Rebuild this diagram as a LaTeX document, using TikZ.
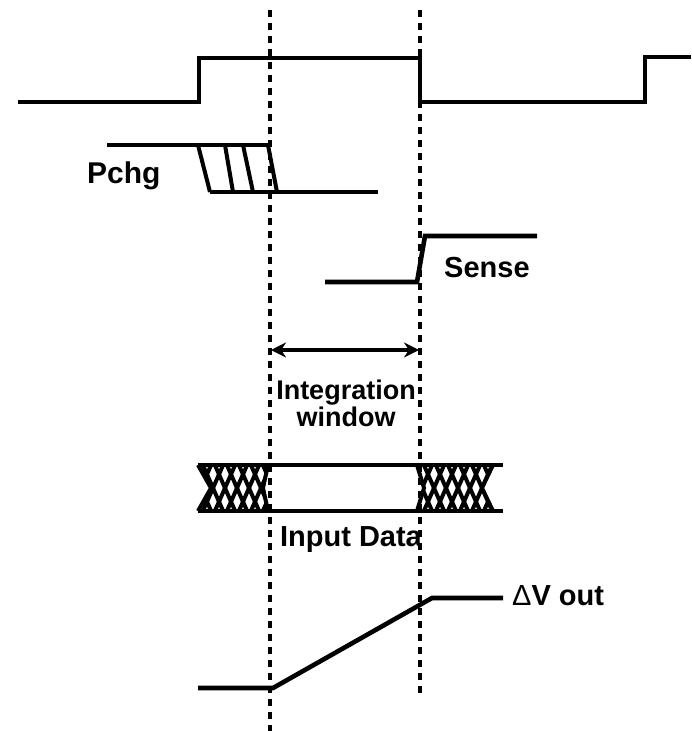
\documentclass[tikz,border=0pt]{standalone}
\usepackage{fontspec}
\setmainfont{Liberation Sans}
\usetikzlibrary{arrows.meta}
\begin{document}
\begin{tikzpicture}[x=1pt,y=-1pt,
  wave/.style={line width=4.6pt,line join=miter},
  guide/.style={line width=3.4pt,dash pattern=on 7pt off 6pt},
  lbl/.style={font=\fontsize{29}{29}\selectfont\bfseries,inner sep=0pt},
  hatch/.style={line width=4pt}]
\useasboundingbox (0,0) rectangle (691,731);
% guides
\draw[guide] (270,10) coordinate (g1a) -- (270,731) coordinate (g1b);
\draw[guide] (420,10) coordinate (g2a) -- (420,695) coordinate (g2b);
% clock
\draw[wave] (18,102) -- (199,102) -- (199,58) -- (420,58) -- (420,102) -- (645,102) -- (645,57) -- (691,57);
% Pchg
\draw[wave] (107,145) -- (270,145);
\draw[wave] (210,192) -- (378,192);
\foreach \a/\b in {198/210,225/233,243/253,268/277}
  \draw[line width=4pt] (\a,145) -- (\b,192);
\node[lbl,anchor=west,font=\fontsize{30}{30}\selectfont\bfseries] (pchg) at (87,176) {Pchg};
% Sense
\draw[wave] (325,282) -- (417,282) -- (425,236) -- (537,236);
\node[lbl,anchor=west] (sense) at (444,268) {Sense};
% Integration window
\coordinate (wl) at (271,350);
\coordinate (wr) at (419,350);
\draw[line width=4.2pt,{Stealth[length=15pt,width=15pt]}-{Stealth[length=15pt,width=15pt]}] (wl) -- (wr);
\node[lbl,align=center,font=\fontsize{27}{27}\selectfont\bfseries] (iw) at (346,403) {Integration\\window};
% Input data
\draw[wave] (198,465) -- (503,465);
\draw[wave] (198,511) -- (503,511);
\begin{scope}
\clip (198,465) -- (268,465) -- (263,488) -- (268,511) -- (198,511) -- (211,488) -- cycle;
\foreach \k in {-2,...,7}
 { \draw[hatch] (190+\k*12,463) -- (212+\k*12,513);
   \draw[hatch] (190+\k*12,513) -- (212+\k*12,463); }
\end{scope}
\draw[line width=4pt] (198,465) -- (211,488) -- (198,511);
\draw[line width=4pt] (268,465) -- (263,488) -- (268,511);
\begin{scope}
\clip (417,465) -- (493,465) -- (482,488) -- (493,511) -- (417,511) -- (424,488) -- cycle;
\foreach \k in {-2,...,8}
 { \draw[hatch] (411+\k*12,463) -- (433+\k*12,513);
   \draw[hatch] (411+\k*12,513) -- (433+\k*12,463); }
\end{scope}
\draw[line width=4pt] (417,465) -- (424,488) -- (417,511);
\draw[line width=4pt] (493,465) -- (482,488) -- (493,511);
\node[lbl] (idata) at (351,540) {Input Data};
% Delta V out
\draw[wave] (198,688) -- (273,688) -- (432,598) -- (503,598);
\node[lbl,anchor=west] (dv) at (512,596) {{\mdseries Δ}V out};
\end{tikzpicture}
\end{document}
